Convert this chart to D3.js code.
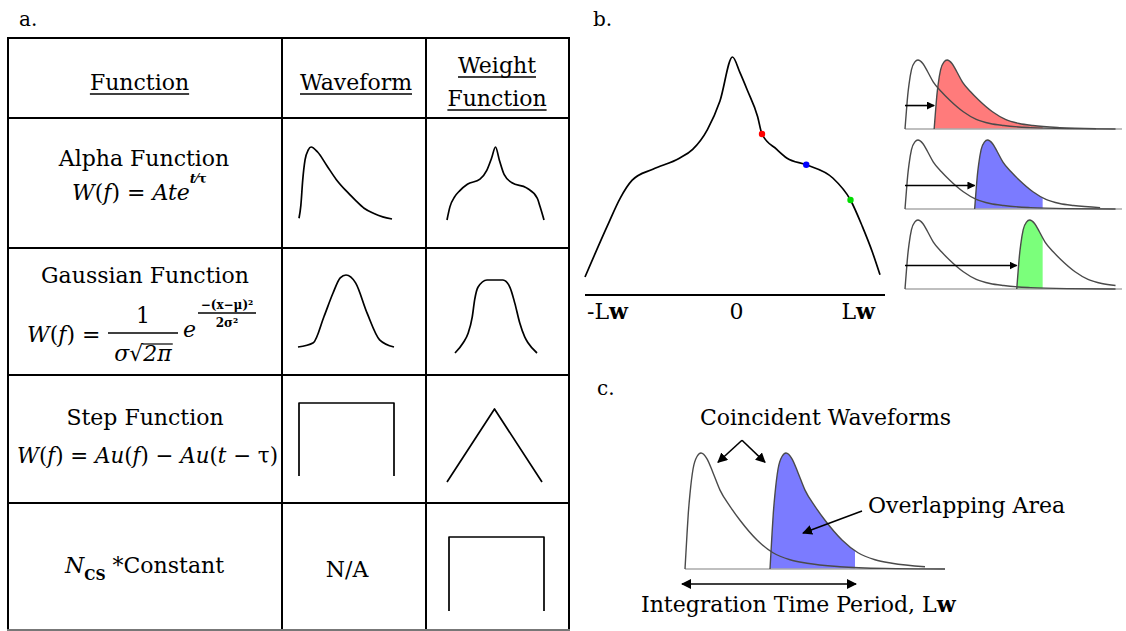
<!DOCTYPE html>
<html><head><meta charset="utf-8">
<script src="https://cdn.jsdelivr.net/npm/d3@7/dist/d3.min.js"></script>
<style>
html,body{margin:0;padding:0;background:#fff;}
svg{display:block;}
svg text{font-family:"DejaVu Serif","Liberation Serif",serif;fill:#000;}
</style></head><body>
<svg id="fig" width="1126" height="631"></svg>
<script>
// ================= DATA =================
const panelLabels = ["a.", "b.", "c."];
const headerLabels = [["Function"], ["Waveform"], ["Weight", "Function"]];
const functionNames = ["Alpha Function", "Gaussian Function", "Step Function"];
const naLabel = "N/A";

// Waveform column shapes (normalised time u, amplitude v)
const alphaWaveU = [0,0.02,0.04,0.065,0.10,0.13,0.20,0.30,0.40,0.50,0.60,0.70,0.80,0.90,1.0];
const alphaWaveV = [0.01,0.19,0.54,0.82,0.96,1.0,0.93,0.74,0.55,0.40,0.27,0.15,0.08,0.03,0.0];
const gaussWaveU = [0,0.16,0.27,0.365,0.44,0.5,0.6,0.72,0.85,1];
const gaussWaveV = [0,0.06,0.42,0.75,0.96,1,0.89,0.47,0.10,0];
const stepWaveU = [0,0,1,1];
const stepWaveV = [0,1,1,0];

// Weight function column shapes
const alphaWeightU = [0,0.03,0.08,0.13,0.21,0.34,0.41,0.46,0.5,0.54,0.59,0.67,0.82,0.93,0.96,1];
const alphaWeightV = [0,0.18,0.32,0.40,0.49,0.56,0.68,0.85,1,0.82,0.62,0.51,0.44,0.30,0.18,0];
const gaussWeightU = [0,0.10,0.16,0.21,0.24,0.28,0.39,0.585,0.67,0.73,0.79,0.85,0.89,1];
const gaussWeightV = [0,0.14,0.27,0.49,0.73,0.90,1,1,0.90,0.68,0.41,0.22,0.14,0];
const stepWeightU = [0,0.5,1];
const stepWeightV = [0,1,0];
const constWeightU = [0,0,1,1];
const constWeightV = [0,1,1,0];

// Panel b: weight function over lag [-Lw, Lw]
const weightLagX = [-1,-0.85,-0.76,-0.68,-0.54,-0.36,-0.27,-0.17,-0.085,0,0.05,0.10,0.17,0.20,0.30,0.37,0.50,0.68,0.80,0.88,0.95,1];
const weightLagY = [0,0.23,0.36,0.44,0.49,0.54,0.58,0.67,0.80,1,0.93,0.85,0.73,0.65,0.58,0.54,0.51,0.45,0.35,0.23,0.11,0.01];
const lagTicks = [-1, 0, 1];
const lagTickLabels = [["-L","w"], ["0",""], ["L","w"]];
const markerLags = [0.20, 0.50, 0.80];
const markerWeights = [0.65, 0.51, 0.35];

// Pulse (waveform) shape used in panels b and c: time units, amplitude
const pulseT = [0,2,3.3,5,8,12,16,22,28,35,45,55,72,88,105,122,155,200,260];
const pulseV = [0,0.30,0.48,0.65,0.86,0.97,1,0.95,0.83,0.68,0.54,0.42,0.25,0.14,0.08,0.05,0.02,0.005,0];
const windowLw = 170;          // integration time period in time units
const shiftsB = [36, 86, 138]; // delays of second waveform in panel b
const shiftC = 85;             // delay in panel c
const textC = ["Coincident Waveforms", "Overlapping Area", ["Integration Time Period, L", "w"]];

// ================= STYLE =================
const FS = 22;
const fillColorsB = ["#ff7b7b", "#7b7bff", "#7bff7b"];
const markerColors = ["#ff0000", "#0000ff", "#00dd00"];
const fillColorC = "#7b7bff";
const pulseStroke = "#4a4a4a";

const svg = d3.select("#fig");
const zip = (a, b) => a.map((d, i) => [d, b[i]]);

// arrow marker
const defs = svg.append("defs");
function mk(id, size) {
  defs.append("marker").attr("id", id).attr("viewBox", "0 0 10 10")
    .attr("refX", 9).attr("refY", 5).attr("markerWidth", size).attr("markerHeight", size)
    .attr("markerUnits", "userSpaceOnUse").attr("orient", "auto-start-reverse")
    .append("path").attr("d", "M0,0L10,5L0,10z").attr("fill", "#000");
}
mk("ah", 10); mk("ahs", 8);

// ================= PANEL LABELS =================
const labelPos = [[19, 26], [593, 26], [597, 395]];
panelLabels.forEach((l, i) => svg.append("text").attr("x", labelPos[i][0]).attr("y", labelPos[i][1]).attr("font-size", FS - 2).text(l));

// ================= TABLE (panel a) =================
const colX = [8, 282, 426, 569];
const rowY = [38, 118, 248, 375, 503, 630];
const tg = svg.append("g");
colX.forEach(x => tg.append("line").attr("x1", x).attr("x2", x).attr("y1", rowY[0] - 1).attr("y2", rowY[rowY.length - 1])
  .attr("stroke", "#000").attr("stroke-width", 2));
rowY.forEach((y, i) => tg.append("line").attr("x1", colX[0] - 1).attr("x2", colX[3] + 1).attr("y1", y).attr("y2", y)
  .attr("stroke", i === rowY.length - 1 ? "#777" : "#000").attr("stroke-width", 2));

function uText(x, y, str) {
  const t = tg.append("text").attr("x", x).attr("y", y).attr("text-anchor", "middle").attr("font-size", FS).text(str);
  const w = t.node().getComputedTextLength();
  tg.append("line").attr("x1", x - w / 2).attr("x2", x + w / 2).attr("y1", y + 4).attr("y2", y + 4)
    .attr("stroke", "#000").attr("stroke-width", 1.3);
}
const headerPos = [[[139.5, 90]], [[356, 90]], [[497, 73], [497, 106]]];
headerLabels.forEach((lines, i) => lines.forEach((s, j) => uText(headerPos[i][j][0], headerPos[i][j][1], s)));

const namePos = [[144, 166], [145, 283], [145, 425]];
functionNames.forEach((s, i) => tg.append("text").attr("x", namePos[i][0]).attr("y", namePos[i][1])
  .attr("text-anchor", "middle").attr("font-size", FS).text(s));

// formulas
function mtext(x, y, parts, size, anchor) {
  const t = tg.append("text").attr("x", x).attr("y", y).attr("font-size", size || FS).attr("text-anchor", anchor || "start");
  parts.forEach(p => {
    const s = t.append("tspan").text(p[0]);
    if (p[1] && p[1].includes("i")) s.attr("font-style", "italic");
    if (p[1] && p[1].includes("b")) s.attr("font-weight", "bold");
    if (p[2]) s.attr("font-size", p[2]);
    if (p[3]) s.attr("dy", p[3]);
  });
  return t;
}
// Alpha: W(f) = Ate^{t/τ}
mtext(72, 200, [["W","i"],["("],["f","i"],[") = "],["Ate","i"],["t","bi",13,-17],["⁄τ","b",13]]);
// Gaussian
mtext(27, 342, [["W","i"],["("],["f","i"],[") ="]]);
mtext(143, 323, [["1"]], FS, "middle");
tg.append("line").attr("x1", 108).attr("x2", 178).attr("y1", 333).attr("y2", 333).attr("stroke", "#000").attr("stroke-width", 1.3);
const den = mtext(143, 361, [["σ","i"],["√"],["2π","i"]], FS, "middle");
{
  const n = den.node();
  const x0 = n.getStartPositionOfChar(2).x, x1 = n.getEndPositionOfChar(3).x;
  const bb = n.getBBox();
  tg.append("line").attr("x1", x0 - 1).attr("x2", x1 + 1).attr("y1", bb.y + 3).attr("y2", bb.y + 3)
    .attr("stroke", "#000").attr("stroke-width", 1.2);
}
mtext(183, 337, [["e","i"]]);
mtext(227, 309, [["−(x−μ)²","b"]], 12, "middle");
tg.append("line").attr("x1", 198).attr("x2", 256).attr("y1", 313).attr("y2", 313).attr("stroke", "#000").attr("stroke-width", 1.3);
mtext(227, 327, [["2σ²","b"]], 12, "middle");
// Step
mtext(17, 463, [["W","i"],["("],["f","i"],[") = "],["Au","i"],["("],["f","i"],[") − "],["Au","i"],["("],["t","i"],[" − τ)"]])
  .attr("textLength", 261).attr("lengthAdjust", "spacingAndGlyphs");
// N_cs * Constant
mtext(65, 573, [["N","i"],["CS","b",14,7],[" *Constant",null,FS,-7]]);
tg.append("text").attr("x", 347).attr("y", 577).attr("text-anchor", "middle").attr("font-size", FS).text(naLabel);

// small shapes in the table
function shape(u, v, bx, by, curve) {
  const x = d3.scaleLinear().domain([0, 1]).range(bx);
  const y = d3.scaleLinear().domain([0, 1]).range(by);
  tg.append("path").datum(zip(u, v))
    .attr("d", d3.line().x(d => x(d[0])).y(d => y(d[1])).curve(curve))
    .attr("fill", "none").attr("stroke", "#000").attr("stroke-width", 1.7).attr("stroke-linejoin", "round");
}
shape(alphaWaveU, alphaWaveV, [299, 392], [219, 147], d3.curveMonotoneX);
shape(gaussWaveU, gaussWaveV, [298, 394], [347, 275], d3.curveMonotoneX);
shape(stepWaveU, stepWaveV, [299, 394], [476, 403], d3.curveLinear);
shape(alphaWeightU, alphaWeightV, [447, 544], [220, 147], d3.curveMonotoneX);
shape(gaussWeightU, gaussWeightV, [455, 537], [353, 280], d3.curveMonotoneX);
shape(stepWeightU, stepWeightV, [447, 542], [482, 409], d3.curveLinear);
shape(constWeightU, constWeightV, [449, 544], [611, 537], d3.curveLinear);

// ================= PANEL b: weight function =================
const bg = svg.append("g");
const xLag = d3.scaleLinear().domain([-1, 1]).range([585, 880]);
const yW = d3.scaleLinear().domain([0, 1]).range([277, 57]);
bg.append("path").datum(zip(weightLagX, weightLagY))
  .attr("d", d3.line().x(d => xLag(d[0])).y(d => yW(d[1])).curve(d3.curveMonotoneX))
  .attr("fill", "none").attr("stroke", "#000").attr("stroke-width", 1.7);
markerLags.forEach((l, i) => bg.append("circle").attr("cx", xLag(l)).attr("cy", yW(markerWeights[i]))
  .attr("r", 3.2).attr("fill", markerColors[i]));
const ax = bg.append("g").attr("transform", "translate(0,295)")
  .call(d3.axisBottom(xLag).tickValues(lagTicks).tickSize(0).tickSizeOuter(0).tickFormat(""));
ax.select(".domain").attr("stroke", "#000").attr("stroke-width", 2).attr("d", "M585,0H885");
lagTicks.forEach((t, i) => {
  const anchor = i === 0 ? "start" : (i === lagTicks.length - 1 ? "end" : "middle");
  const tx = bg.append("text").attr("x", xLag(t) + (i === 0 ? 2 : (i === 2 ? -5 : 4))).attr("y", 319)
    .attr("text-anchor", anchor).attr("font-size", FS);
  tx.append("tspan").text(lagTickLabels[i][0]);
  if (lagTickLabels[i][1]) tx.append("tspan").attr("font-weight", "900").text(lagTickLabels[i][1]);
});

// ================= pulses =================
const pulse = zip(pulseT, pulseV);
let clipN = 0;
function pulsePanel(g, xr, yr, domMax, shift, fill, arrowY) {
  const x = d3.scaleLinear().domain([0, domMax]).range(xr);
  const y = d3.scaleLinear().domain([0, 1]).range(yr);
  const line = d3.line().x(d => x(d[0])).y(d => y(d[1])).curve(d3.curveMonotoneX);
  const area = d3.area().x(d => x(d[0])).y0(y(0)).y1(d => y(d[1])).curve(d3.curveMonotoneX);
  const shifted = pulse.map(d => [d[0] + shift, d[1]]).filter(d => d[0] <= domMax);
  const id = "clp" + (clipN++);
  defs.append("clipPath").attr("id", id).append("rect")
    .attr("x", x(shift) - 1).attr("y", yr[1] - 5).attr("width", x(windowLw) - x(shift) + 1).attr("height", yr[0] - yr[1] + 6);
  g.append("path").datum(shifted).attr("d", area).attr("fill", fill).attr("clip-path", `url(#${id})`);
  g.append("line").attr("x1", x(0)).attr("x2", x(domMax)).attr("y1", y(0)).attr("y2", y(0))
    .attr("stroke", "#aaa").attr("stroke-width", 1.5);
  const first = pulse.filter(d => d[0] <= domMax);
  g.append("path").datum(first).attr("d", line).attr("fill", "none").attr("stroke", pulseStroke).attr("stroke-width", 1.4);
  g.append("path").datum(shifted).attr("d", line).attr("fill", "none").attr("stroke", pulseStroke).attr("stroke-width", 1.4);
  if (arrowY !== null) {
    g.append("line").attr("x1", x(0)).attr("x2", x(shift)).attr("y1", y(arrowY)).attr("y2", y(arrowY))
      .attr("stroke", "#000").attr("stroke-width", 1.6).attr("marker-end", "url(#ahs)");
  }
  return { x, y };
}
const pg = svg.append("g");
const bBase = [129, 209, 289];
shiftsB.forEach((s, i) => pulsePanel(pg, [905, 1122], [bBase[i], bBase[i] - 69], 268, s, fillColorsB[i], 0.34));

// ================= PANEL c =================
const cg = svg.append("g");
const c = pulsePanel(cg, [685, 945], [569, 453], 260, shiftC, fillColorC, null);
cg.append("line").attr("x1", c.x(0) - 3).attr("x2", c.x(windowLw) + 1).attr("y1", 584).attr("y2", 584)
  .attr("stroke", "#000").attr("stroke-width", 1.6).attr("marker-start", "url(#ah)").attr("marker-end", "url(#ah)");
cg.append("text").attr("x", c.x(15)).attr("y", 425).attr("font-size", FS).text(textC[0]);
cg.append("path").attr("d", `M${c.x(57)},${c.y(1.11)}L${c.x(33)},${c.y(0.92)}`).attr("stroke", "#000").attr("stroke-width", 1.6).attr("fill", "none").attr("marker-end", "url(#ah)");
cg.append("path").attr("d", `M${c.x(57)},${c.y(1.11)}L${c.x(80)},${c.y(0.92)}`).attr("stroke", "#000").attr("stroke-width", 1.6).attr("fill", "none").attr("marker-end", "url(#ah)");
cg.append("text").attr("x", c.x(183)).attr("y", 513).attr("font-size", FS).text(textC[1]);
cg.append("line").attr("x1", c.x(177)).attr("y1", c.y(0.50)).attr("x2", c.x(118)).attr("y2", c.y(0.31))
  .attr("stroke", "#000").attr("stroke-width", 1.6).attr("marker-end", "url(#ah)");
const it = cg.append("text").attr("x", 641).attr("y", 612).attr("font-size", FS);
it.append("tspan").text(textC[2][0]);
it.append("tspan").attr("font-weight", "900").text(textC[2][1]);
</script>
</body></html>
